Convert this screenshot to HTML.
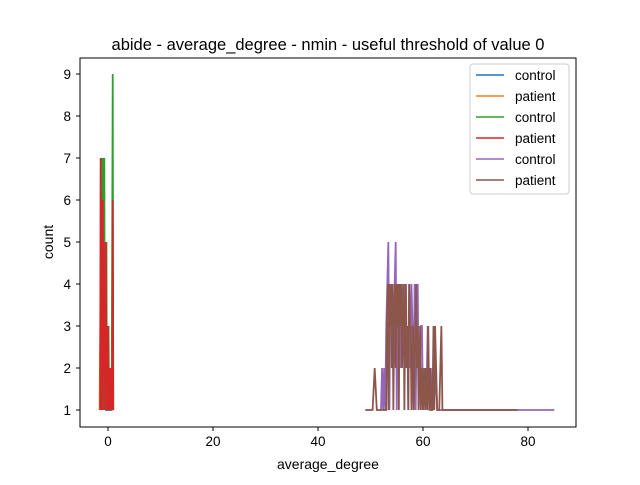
<!DOCTYPE html>
<html><head><meta charset="utf-8"><style>
body{margin:0;background:#fff}
svg{font-family:"Liberation Sans","DejaVu Sans",sans-serif}
</style></head><body>
<svg id="chart" width="640" height="480">
<text x="328" y="50" text-anchor="middle" font-size="16.5">abide - average_degree - nmin - useful threshold of value 0</text>
<g id="series"></g>
<rect x="80" y="58" width="496" height="369" fill="none" stroke="#000" stroke-width="1"/>
<g id="axes"></g>
<text x="328" y="469" text-anchor="middle" font-size="14">average_degree</text>
<text transform="translate(53,242) rotate(-90)" text-anchor="middle" font-size="14">count</text>
<g id="legend"></g>
</svg>
<script>
const xTicks=[0,20,40,60,80];
const yTicks=[1,2,3,4,5,6,7,8,9];
const seriesNames=["control","patient","control","patient","control","patient"];
const seriesColors=["#1f77b4","#ff7f0e","#2ca02c","#d62728","#9467bd","#8c564b"];
const blueX=[-1.2,-1,-0.8,-0.6,-0.4,0.8];
const blueY=[1,3,1,2,1,1];
const orangeX=[-1.6,-1.4,-1.2,-1,-0.8,-0.6];
const orangeY=[1,4,1,3,2,1];
const greenX=[-1.3,-1.1,-1.0,-0.9,-0.8,-0.7,-0.6,-0.5,-0.4,-0.3,-0.2,-0.1,0,0.1,0.2,0.3,0.5,0.7,0.9,1.0];
const greenY=[1,7,1,7,2,7,1,5,2,5,1,3,2,3,1,2,1,1,9,1];
const redX=[-1.5,-1.4,-1.3,-1.2,-1.1,-1.0,-0.9,-0.8,-0.7,-0.6,-0.5,-0.4,-0.3,-0.2,-0.1,0,0.1,0.2,0.3,0.4,0.5,0.6,0.7,0.8,0.9,1.0];
const redY=[1,7,1,6,1,6,2,5,1,4,2,5,1,3,1,3,2,1,2,1,2,1,2,1,6,1];
const purpleX=[52,52.2,52.4,52.6,52.8,53,53.2,53.4,53.6,53.8,54,54.2,54.4,54.6,54.8,55,55.2,55.4,55.6,55.8,56,56.2,56.4,56.6,56.8,57,57.2,57.4,57.6,57.8,58,58.2,58.4,58.6,58.8,59,59.2,59.4,59.6,59.8,60,60.3,60.6,60.9,61.2,61.5,61.8,62.1,62.4,62.7,63,85];
const purpleY=[1,2,1,2,1,3,4,5,1,4,3,4,2,4,5,1,4,3,4,2,3,4,3,4,2,3,1,4,2,4,3,1,4,1,3,4,1,2,3,3,1,2,1,3,1,1,2,1,2,1,1,1];
const brownX=[49,50.4,50.8,51.2,53,53.15,53.3,53.45,53.6,53.75,53.9,54.05,54.2,54.35,54.5,54.65,54.8,54.95,55.1,55.25,55.4,55.55,55.7,55.85,56,56.15,56.3,56.45,56.6,56.75,56.9,57.05,57.2,57.35,57.5,57.65,57.8,57.95,58.1,58.25,58.4,58.55,58.7,58.85,59,59.15,59.3,59.45,59.6,59.8,60,60.2,60.4,60.6,60.8,61,61.2,61.4,61.6,61.8,62,62.15,62.3,62.5,62.7,62.9,63.1,63.3,63.5,63.7,78];
const brownY=[1,1,2,1,1,3,4,1,4,3,4,2,4,1,3,4,2,4,3,4,1,4,3,4,2,3,4,1,3,4,2,3,1,4,3,3,1,2,3,1,2,3,4,2,3,1,2,3,1,2,1,2,1,2,1,3,1,2,1,1,3,1,3,2,1,1,1,2,3,1,1];

const NS="http://www.w3.org/2000/svg";
function sx(v){return 108+v*5.25;}
function sy(v){return 410-(v-1)*42;}
const axes=document.getElementById('axes');
xTicks.forEach(t=>{
  const l=document.createElementNS(NS,'line');
  l.setAttribute('x1',sx(t));l.setAttribute('x2',sx(t));l.setAttribute('y1',427);l.setAttribute('y2',431);l.setAttribute('stroke','#000');
  
  
  axes.appendChild(l);
  const tx=document.createElementNS(NS,'text');
  tx.setAttribute('x',sx(t));tx.setAttribute('y',446);tx.setAttribute('text-anchor','middle');tx.setAttribute('font-size','13.5');
  tx.textContent=t;
  
  
  axes.appendChild(tx);
});
yTicks.forEach(t=>{
  const l=document.createElementNS(NS,'line');
  l.setAttribute('x1',76);l.setAttribute('x2',80);l.setAttribute('y1',sy(t));l.setAttribute('y2',sy(t));l.setAttribute('stroke','#000');
  
  
  axes.appendChild(l);
  const tx=document.createElementNS(NS,'text');
  tx.setAttribute('x',71);tx.setAttribute('y',sy(t)+5);tx.setAttribute('text-anchor','end');tx.setAttribute('font-size','13.5');
  tx.textContent=t;
  
  
  axes.appendChild(tx);
});
const data=[[blueX,blueY],[orangeX,orangeY],[greenX,greenY],[redX,redY],[purpleX,purpleY],[brownX,brownY]];
const sg=document.getElementById('series');
data.forEach((d,i)=>{
  const p=document.createElementNS(NS,'polyline');
  p.setAttribute('points',d[0].map((x,j)=>sx(x)+','+sy(d[1][j])).join(' '));
  p.setAttribute('fill','none');p.setAttribute('stroke',seriesColors[i]);p.setAttribute('stroke-width','1.8');
  
  
  sg.appendChild(p);
});
const lg=document.getElementById('legend');
const box=document.createElementNS(NS,'rect');
box.setAttribute('x',470);box.setAttribute('y',64);box.setAttribute('width',99);box.setAttribute('height',130);box.setAttribute('rx',3);
box.setAttribute('fill','#fff');box.setAttribute('fill-opacity','0.8');box.setAttribute('stroke','#ccc');


lg.appendChild(box);
seriesNames.forEach((n,i)=>{
  const y=75+i*21;
  const l=document.createElementNS(NS,'line');
  l.setAttribute('x1',476);l.setAttribute('x2',504);l.setAttribute('y1',y);l.setAttribute('y2',y);
  l.setAttribute('stroke',seriesColors[i]);l.setAttribute('stroke-width','1.6');
  
  
  lg.appendChild(l);
  const t=document.createElementNS(NS,'text');
  t.setAttribute('x',515);t.setAttribute('y',y+5);t.setAttribute('font-size','13.5');
  t.textContent=n;
  
  
  lg.appendChild(t);
});
</script>
</body></html>
